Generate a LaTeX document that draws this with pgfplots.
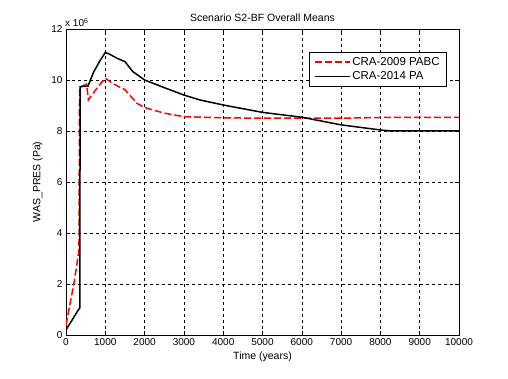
\documentclass[border=0pt]{standalone}
\usepackage{fontspec}
\setmainfont{Liberation Sans}
\usepackage{pgfplots}
\pgfplotsset{compat=1.18}
\usetikzlibrary{calc}

\begin{document}
\begin{tikzpicture}
\begin{axis}[
    scale only axis,
    width=393pt, height=306pt,
    xmin=0, xmax=10000, ymin=0, ymax=12,
    xtick={0,1000,...,10000},
    ytick={0,2,...,12},
    scaled x ticks=false,
    /pgf/number format/assume math mode=true,
    /pgf/number format/1000 sep={},
    tick align=inside,
    major tick length=4pt,
    grid=major,
    major grid style={black, dashed, line width=0.5pt},
    axis line style={black, line width=0.6pt},
    tick style={black, line width=0.6pt},
    tick label style={font=\fontsize{10}{12}\selectfont},
    label style={font=\fontsize{10.5}{12}\selectfont},
    title style={font=\fontsize{10.5}{12}\selectfont, yshift=-2pt},
    title={Scenario S2-BF Overall Means},
    xlabel={Time (years)},
    ylabel={WAS\_PRES (Pa)},
    xlabel style={yshift=1pt},
    ylabel style={yshift=2pt},
    legend style={at={(0.969,0.925)}, anchor=north east, draw=black,
        font=\fontsize{11.5}{13}\selectfont, cells={anchor=west},
        inner xsep=5pt, inner ysep=3pt, row sep=1pt},
    legend cell align=left,
    legend image code/.code={\draw[#1] (0pt,0pt) -- (35pt,0pt);},
]
\addplot[red, line width=1.5pt, dash pattern=on 7pt off 3pt] coordinates {
(0,0.4) (100,1.2) (200,2.0) (300,3.0) (330,3.33) (345,9.7) (400,9.75)
(525,9.84) (570,9.22) (700,9.5) (850,9.8) (1000,10.07) (1200,9.85)
(1500,9.62) (1800,9.09) (2000,8.92) (2500,8.7) (3000,8.56) (4000,8.52)
(5000,8.5) (6000,8.5) (7000,8.5) (8000,8.53) (10000,8.53)
};
\addlegendentry{CRA-2009 PABC}
\addplot[black, line width=1.5pt] coordinates {
(0,0.2) (100,0.45) (200,0.7) (300,0.95) (350,1.06) (360,9.74) (450,9.75)
(560,9.76) (700,10.3) (850,10.72) (1000,11.08) (1100,11.02)
(1300,10.85) (1500,10.72) (1700,10.33) (2000,10.0) (2500,9.7) (3000,9.41)
(3400,9.22) (4000,9.02) (5000,8.73) (6000,8.54) (7000,8.24) (8000,8.04)
(8250,8.0) (10000,8.0)
};
\addlegendentry{CRA-2014 PA}
\end{axis}
\node[anchor=south west, inner sep=0pt, font=\fontsize{10}{12}\selectfont]
    at ($(current axis.north west)+(-1pt,2pt)$) {x 10$^{\mathrm{6}}$};
\path ($(current axis.south west)+(-66pt,-44pt)$) rectangle ($(current axis.north east)+(49pt,29pt)$);
\end{tikzpicture}
\end{document}
